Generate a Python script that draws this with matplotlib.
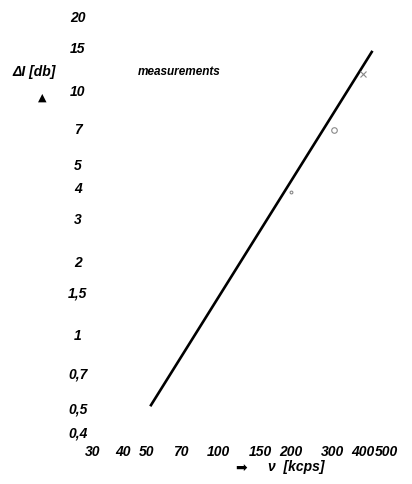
import numpy as np
import matplotlib
matplotlib.use("Agg")
import matplotlib.pyplot as plt

# fitted line (kcps, db)
line_nu = [52, 439]
line_di = [0.505, 14.4]

# measurement points
meas_nu = [200, 303, 400]
meas_di = [3.8, 6.8, 11.6]
meas_mk = [".", "o", "x"]

xticks = [30, 40, 50, 70, 100, 150, 200, 300, 400, 500]
xticklabels = ["30", "40", "50", "70", "100", "150", "200", "300", "400", "500"]
yticks = [0.4, 0.5, 0.7, 1, 1.5, 2, 3, 4, 5, 7, 10, 15, 20]
yticklabels = ["0,4", "0,5", "0,7", "1", "1,5", "2", "3", "4", "5", "7", "10", "15", "20"]

fam = ["Liberation Sans", "DejaVu Sans"]

W, H = 412, 485
fig = plt.figure(figsize=(W / 100, H / 100), dpi=100)
ax = fig.add_axes([93 / W, 1 - 432 / H, (386 - 93) / W, (432 - 17) / H])
ax.set_xscale("log")
ax.set_yscale("log")
ax.set_xlim(30, 500)
ax.set_ylim(0.4, 20)

ax.plot(line_nu, line_di, color="black", lw=1.9, solid_capstyle="butt")
for x, y, m in zip(meas_nu, meas_di, meas_mk):
    ax.plot([x], [y], marker=m, color="#888888", ms=4, mfc="none", mew=0.8, ls="none")

for s in ax.spines.values():
    s.set_visible(False)

tfont = dict(family=fam, fontstyle="italic", fontweight="bold", fontsize=10)
ax.set_xticks(xticks)
ax.set_xticklabels(xticklabels, **tfont)
ax.set_yticks(yticks)
ax.set_yticklabels(yticklabels, ha="center", **tfont)
ax.minorticks_off()
ax.tick_params(axis="y", length=0, pad=11)
ax.tick_params(axis="x", length=0, pad=9)

fig.text(12 / W, 1 - 72 / H, "\u0394I [db]", family=fam, fontstyle="italic",
         fontweight="bold", fontsize=10, va="center", ha="left")
fig.text(42 / W, 1 - 98 / H, "\u25b2", fontsize=8, va="center", ha="center")
fig.text(138 / W, 1 - 72 / H, "measurements", family=fam, fontstyle="italic",
         fontweight="bold", fontsize=8.5, va="center", ha="left")
fig.text(241 / W, 1 - 468 / H, "\u27a1", fontsize=10, va="center", ha="center")
fig.text(268 / W, 1 - 467 / H, "\u03bd  [kcps]", family=fam, fontstyle="italic",
         fontweight="bold", fontsize=10, va="center", ha="left")

fig.savefig("out.png", dpi=100)
